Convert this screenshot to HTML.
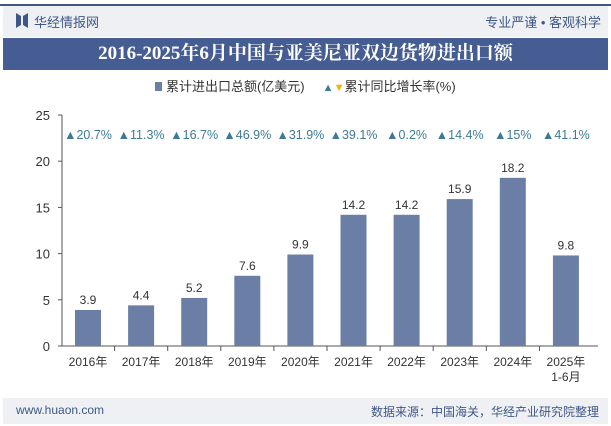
<!DOCTYPE html>
<html><head><meta charset="utf-8"><style>
body{margin:0;width:611px;height:426px;overflow:hidden;background:#fff;font-family:"Liberation Sans","Noto Sans CJK SC",sans-serif;position:relative}
.abs{position:absolute}
</style></head><body>
<div class="abs" style="left:0;top:4px;width:611px;height:2px;background:#3f5787"></div>
<div class="abs" style="left:3px;top:6px;width:605px;height:31px;background:#eef0f4"></div>
<div class="abs" style="left:16px;top:13px;width:12px;height:15px">
<div style="position:absolute;left:0;top:0;width:5px;height:15px;background:#3f5787;clip-path:polygon(0 0,100% 20%,100% 80%,0 100%)"></div>
<div style="position:absolute;left:7px;top:0;width:5px;height:15px;background:#3f5787;clip-path:polygon(0 20%,100% 0,100% 100%,0 80%)"></div></div>
<div class="abs" style="left:34px;top:12px;font-size:13px;color:#3f5787">华经情报网</div>
<div class="abs" style="right:10px;top:12px;font-size:13px;color:#3f5787">专业严谨 • 客观科学</div>
<div class="abs" style="left:3px;top:38px;width:605px;height:32px;background:#455d92;color:#fff;font-size:19px;font-weight:bold;text-align:center;line-height:32px;font-family:'Liberation Serif','Noto Serif CJK SC',serif">2016-2025年6月中国与亚美尼亚双边货物进出口额</div>
<div class="abs" style="left:0;top:76px;width:611px;text-align:center;font-size:13px;color:#333">
<span><span style="display:inline-block;width:7px;height:9px;background:#6b7fa6"></span> 累计进出口总额(亿美元)</span>
&nbsp;&nbsp;&nbsp;&nbsp;<span><span style="color:#3d7a96;font-size:11px">▲</span><span style="color:#f0b400;font-size:11px">▼</span>累计同比增长率(%)</span></div>
<svg class="abs" style="left:0;top:0" width="611" height="426" id="chart"></svg>
<div class="abs" style="left:3px;top:398px;width:605px;height:26px;background:#eef0f4"></div>
<div class="abs" style="left:16px;top:403px;font-size:12px;color:#3f5787">www.huaon.com</div>
<div class="abs" style="right:12px;top:403px;font-size:12px;color:#3f5787">数据来源：中国海关，华经产业研究院整理</div>
<script>
const categories=["2016年","2017年","2018年","2019年","2020年","2021年","2022年","2023年","2024年","2025年"];
const values=[3.9,4.4,5.2,7.6,9.9,14.2,14.2,15.9,18.2,9.8];
const rates=["20.7%","11.3%","16.7%","46.9%","31.9%","39.1%","0.2%","14.4%","15%","41.1%"];
const yTicks=[0,5,10,15,20,25];
const svg=document.getElementById('chart');const NS='http://www.w3.org/2000/svg';
const y=v=>346-v*9.24;const x=i=>88+i*53.1;
function mk(t,a,txt){const e=document.createElementNS(NS,t);for(const k in a)e.setAttribute(k,a[k]);if(txt!=null)e.textContent=txt;svg.appendChild(e);return e;}
let ax=mk('line',{x1:62,y1:115,x2:62,y2:346,stroke:'#555'});
let bx=mk('line',{x1:62,y1:346,x2:598,y2:346,stroke:'#555'});
yTicks.forEach(t=>{mk('line',{x1:58,y1:y(t),x2:62,y2:y(t),stroke:'#555'});let e=mk('text',{x:50,y:y(t)+5,'text-anchor':'end','font-size':13,fill:'#333'},t);});
categories.forEach((c,i)=>{
 const cx=x(i);
 let r=mk('rect',{x:cx-13,y:y(values[i]),width:26,height:346-y(values[i]),fill:'#6b7fa6'});
 let v=mk('text',{x:cx,y:y(values[i])-6,'text-anchor':'middle','font-size':12,fill:'#333'},values[i]);
 let rt=mk('text',{x:cx,y:139,'text-anchor':'middle','font-size':12.5,fill:'#3d7a96'},'▲'+rates[i]);
 if(i>0)mk('line',{x1:cx-26.5,y1:346,x2:cx-26.5,y2:351,stroke:'#555'});
 let l=mk('text',{x:cx,y:366,'text-anchor':'middle','font-size':12,fill:'#333'},c);
});
let s=mk('text',{x:x(9),y:381,'text-anchor':'middle','font-size':12,fill:'#333'},'1-6月');
</script>
</body></html>
